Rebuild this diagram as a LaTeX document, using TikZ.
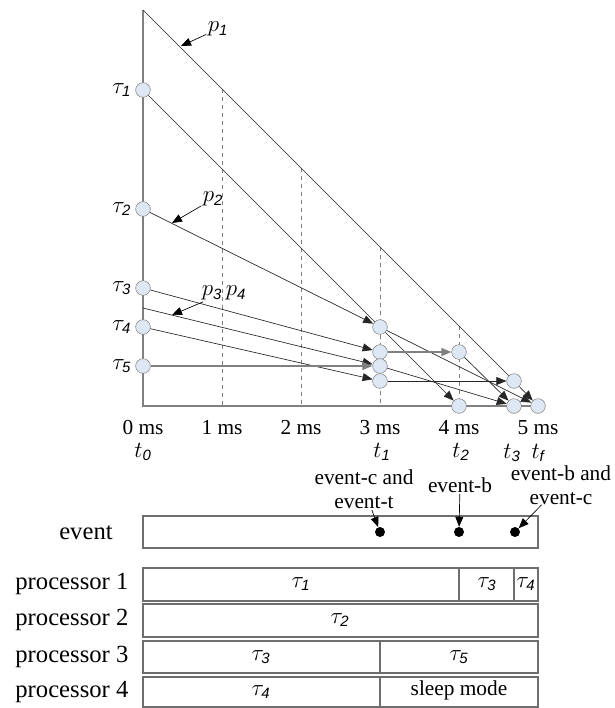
\documentclass[tikz,border=0pt]{standalone}
\usepackage{amsmath}
\usepackage{fontspec}
\setmainfont{Liberation Serif}
\setsansfont{Liberation Sans}
\usetikzlibrary{arrows.meta,positioning}
\definecolor{circfill}{RGB}{222,231,244}
\definecolor{axisgray}{RGB}{128,128,128}
\definecolor{boxgray}{RGB}{110,110,110}
\newcommand{\sub}[1]{\text{\sffamily\itshape #1}}

\begin{document}
\begin{tikzpicture}[x=0.75pt,y=-0.75pt,
    >={Triangle[length=7.5pt,width=6pt]},
    every node/.style={inner sep=1pt},
    ms/.style={circle, draw=axisgray, fill=circfill, minimum size=11pt, inner sep=0pt},
    evdot/.style={circle, fill=black, minimum size=7.5pt, inner sep=0pt},
    axis/.style={axisgray, line width=1.1pt},
    grid/.style={axisgray, dashed, line width=0.6pt},
    path/.style={black!85, line width=0.5pt},
    gpath/.style={axisgray, line width=1pt},
    ptr/.style={->, black, line width=0.5pt},
    bar/.style={draw=boxgray, line width=0.8pt},
    tick/.style={font=\fontsize{16}{19}\selectfont},
    big/.style={font=\fontsize{18.5}{22}\selectfont}]

    \useasboundingbox (0,0) rectangle (615,708);

    % time grid and axes
    \foreach \x/\y in {222/89, 301/168, 380/247, 459/326}
        \draw[grid] (\x,\y) -- (\x,406);
    \draw[axis] (143,10) -- (143,406) -- (538,406);

    \coordinate (top) at (143,10);
    \coordinate (x34) at (143,308);

    \node[ms] (tau1) at (143,90) {};
    \node[ms] (tau2) at (143,209) {};
    \node[ms] (tau3) at (143,288) {};
    \node[ms] (tau4) at (143,327) {};
    \node[ms] (tau5) at (143,366) {};

    \node[ms] (t1a) at (380,327) {};
    \node[ms] (t1b) at (380,352) {};
    \node[ms] (t1c) at (380,366) {};
    \node[ms] (t1d) at (380,381) {};

    \node[ms] (t2a) at (459,352) {};
    \node[ms] (t2b) at (459,406) {};

    \node[ms] (t3a) at (514,381) {};
    \node[ms] (t3b) at (514,406) {};
    \node[ms] (tf) at (538,406) {};

    \foreach \i in {1,...,5}
        \node[tick, left=2pt of tau\i] {$\tau_{\sub{\i}}$};

    \draw[path] (top) -- (t3a);
    \draw[path,->] (t3a) -- (tf);
    \draw[path] (tau1) -- (t1a);
    \draw[path,->] (t1a) -- (t2b);
    \draw[path,->] (tau2) -- (t1a);
    \draw[path,->] (t1a) -- (tf);
    \draw[path,->] (tau3) -- (t1b);
    \draw[gpath,->] (t1b) -- (t2a);
    \draw[path,->] (t2a) -- (t3b);
    \draw[path,->] (x34) -- (t1c);
    \draw[path,->] (t1c) -- (t3b);
    \draw[path,->] (tau4) -- (t1d);
    \draw[path,->] (t1d) -- (t3a);
    \draw[gpath,->] (tau5) -- (t1c);

    % path labels
    \node[tick] (lp1) at (218,29) {$p_{\sub{1}}$};
    \coordinate (hp1) at (181,46);
    \draw[ptr] (lp1) -- (hp1);
    \node[tick] (lp2) at (213,199) {$p_{\sub{2}}$};
    \coordinate (hp2) at (172,223);
    \draw[ptr] (lp2) -- (hp2);
    \node[tick] (lp34) at (224,293) {$p_{\sub{3}}\,p_{\sub{4}}$};
    \coordinate (hp34) at (172,315);
    \draw[ptr] (lp34) -- (hp34);

    % time axis labels
    \foreach \x [count=\i from 0] in {143,222,301,380,459,538}
        \node[tick, inner sep=0pt] (ms\i) at (\x,428) {\i\ ms};
    \node[tick] (tl0) at (143,452) {$t_{\sub{0}}$};
    \node[tick] (tl1) at (382,452) {$t_{\sub{1}}$};
    \node[tick] (tl2) at (461,452) {$t_{\sub{2}}$};
    \node[tick, inner sep=0pt] (tl3) at (512,453) {$t_{\sub{3}}$};
    \node[tick, inner sep=0pt] (tlf) at (538,453) {$t_{\sub{f}}$};

    % events
    \draw[bar] (143,516) rectangle (538,548);
    \node[big] (evlab) at (86,533) {event};
    \node[evdot] (d1) at (380,532) {};
    \node[evdot] (d2) at (459,532) {};
    \node[evdot] (d3) at (515,532) {};
    \node[tick, align=center] (ev1) at (364,489) {event-c and\\[-1pt]event-t};
    \node[tick] (ev2) at (460,485) {event-b};
    \node[tick, align=center, inner sep=0pt] (ev3) at (561,485) {event-b and\\[-1pt]event-c};
    \draw[ptr] (ev1) -- (d1);
    \draw[ptr] (ev2) -- (d2);
    \draw[ptr] (ev3) -- (d3);

    % processors
    \draw[bar] (143,568) rectangle (538,601);
    \draw[bar] (459,568) -- (459,601);
    \draw[bar] (514,568) -- (514,601);
    \draw[bar] (143,604) rectangle (538,637);
    \draw[bar] (143,641) rectangle (538,673);
    \draw[bar] (380,641) -- (380,673);
    \draw[bar] (143,677) rectangle (538,707);
    \draw[bar] (380,677) -- (380,707);

    \node[big, anchor=east] (pr1) at (130,584) {processor 1};
    \node[big, anchor=east] (pr2) at (130,620) {processor 2};
    \node[big, anchor=east] (pr3) at (130,657) {processor 3};
    \node[big, anchor=east] (pr4) at (130,692) {processor 4};

    \node[tick] (b11) at (301,584) {$\tau_{\sub{1}}$};
    \node[tick] (b13) at (487,584) {$\tau_{\sub{3}}$};
    \node[tick] (b14) at (526,584) {$\tau_{\sub{4}}$};
    \node[tick] (b22) at (340,620) {$\tau_{\sub{2}}$};
    \node[tick] (b33) at (261,657) {$\tau_{\sub{3}}$};
    \node[tick] (b35) at (459,657) {$\tau_{\sub{5}}$};
    \node[tick] (b44) at (261,692) {$\tau_{\sub{4}}$};
    \node[tick] (b4s) at (459,690) {sleep mode};
\end{tikzpicture}
\end{document}
